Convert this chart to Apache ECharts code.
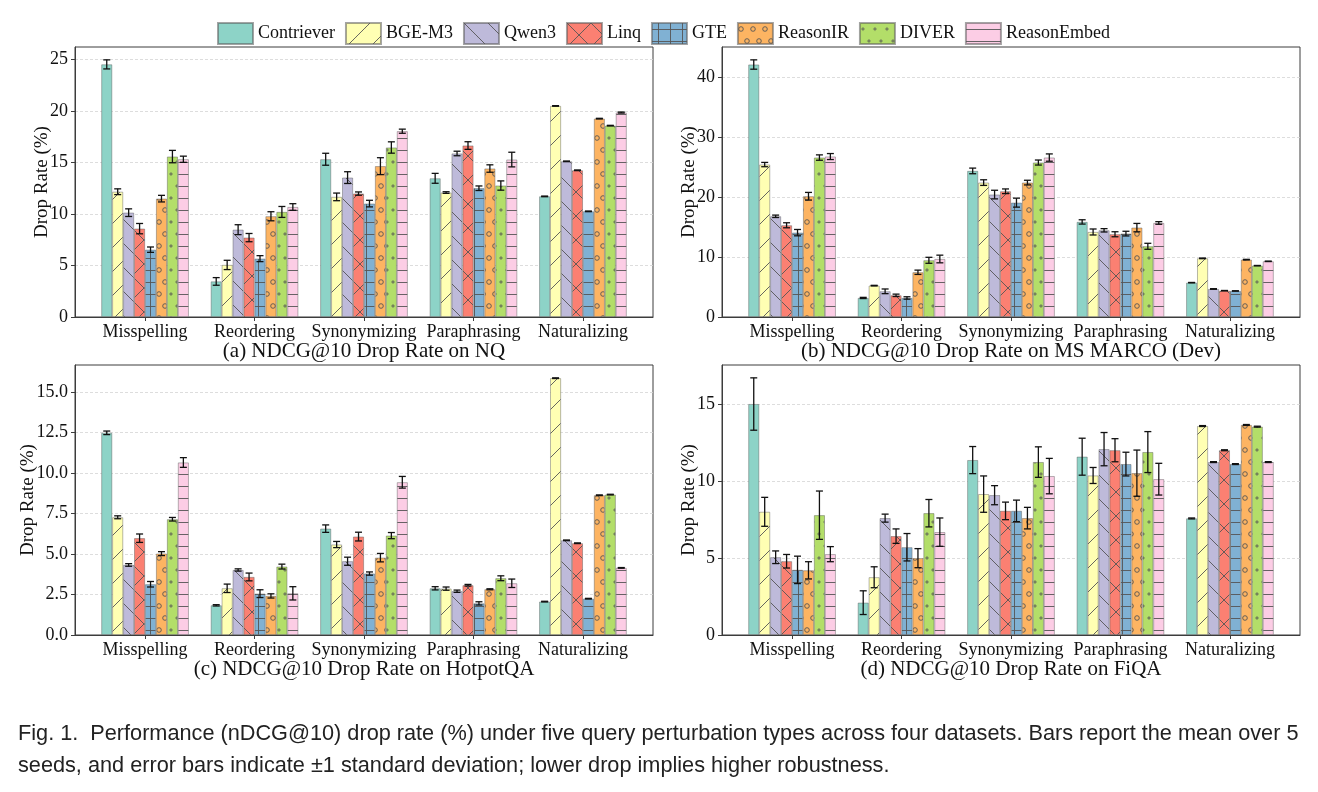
<!DOCTYPE html>
<html>
<head>
<meta charset="utf-8">
<script src="https://cdn.jsdelivr.net/npm/echarts@6.0.0/dist/echarts.min.js"></script>
<style>
  html, body { margin: 0; padding: 0; background: #fff; }
  #chart { width: 1318px; height: 792px; }
</style>
</head>
<body>
<div id="chart"></div>
<script>
const models = ["Contriever", "BGE-M3", "Qwen3", "Linq", "GTE", "ReasonIR", "DIVER", "ReasonEmbed"];
const perturbations = ["Misspelling", "Reordering", "Synonymizing", "Paraphrasing", "Naturalizing"];

// rows = models, columns = perturbations
const nqMean = [
  [24.5, 3.45, 15.3, 13.45, 11.7],
  [12.15, 5.05, 11.65, 12.07, 20.47],
  [10.12, 8.47, 13.52, 15.86, 15.1],
  [8.57, 7.7, 11.97, 16.63, 14.23],
  [6.53, 5.66, 11.0, 12.49, 10.25],
  [11.48, 9.77, 14.63, 14.4, 19.24],
  [15.56, 10.19, 16.44, 12.75, 18.56],
  [15.3, 10.67, 18.02, 15.27, 19.83],
];
const nqStd = [
  [0.44, 0.37, 0.58, 0.48, 0.03],
  [0.28, 0.45, 0.37, 0.08, 0.03],
  [0.37, 0.48, 0.57, 0.22, 0.03],
  [0.5, 0.4, 0.16, 0.37, 0.03],
  [0.26, 0.29, 0.32, 0.22, 0.03],
  [0.32, 0.44, 0.82, 0.36, 0.03],
  [0.6, 0.53, 0.55, 0.45, 0.03],
  [0.3, 0.32, 0.2, 0.71, 0.05],
];
const marcoMean = [
  [42.17, 3.18, 24.4, 15.88, 5.74],
  [25.46, 5.24, 22.45, 14.2, 9.8],
  [16.82, 4.29, 20.45, 14.48, 4.68],
  [15.32, 3.62, 21.0, 13.82, 4.4],
  [14.09, 3.18, 19.1, 13.93, 4.35],
  [20.17, 7.47, 22.45, 14.93, 9.58],
  [26.63, 9.47, 25.8, 11.81, 8.58],
  [26.8, 9.69, 26.63, 15.71, 9.3],
];
const marcoStd = [
  [0.78, 0.1, 0.47, 0.36, 0.03],
  [0.36, 0.05, 0.47, 0.5, 0.05],
  [0.2, 0.39, 0.72, 0.28, 0.05],
  [0.42, 0.2, 0.39, 0.42, 0.03],
  [0.53, 0.2, 0.75, 0.39, 0.03],
  [0.64, 0.36, 0.39, 0.7, 0.05],
  [0.45, 0.5, 0.42, 0.5, 0.03],
  [0.5, 0.64, 0.61, 0.22, 0.03],
];
const hotpotMean = [
  [12.47, 1.83, 6.56, 2.88, 2.06],
  [7.26, 2.88, 5.58, 2.86, 15.84],
  [4.32, 4.01, 4.55, 2.7, 5.84],
  [5.97, 3.58, 6.07, 3.07, 5.66],
  [3.13, 2.55, 3.79, 1.95, 2.24],
  [5.02, 2.41, 4.77, 2.82, 8.62],
  [7.14, 4.22, 6.13, 3.5, 8.66],
  [10.64, 2.57, 9.42, 3.19, 4.14],
];
const hotpotStd = [
  [0.11, 0.04, 0.23, 0.1, 0.02],
  [0.09, 0.26, 0.19, 0.1, 0.02],
  [0.08, 0.07, 0.25, 0.07, 0.02],
  [0.26, 0.24, 0.27, 0.05, 0.02],
  [0.17, 0.24, 0.1, 0.1, 0.02],
  [0.12, 0.13, 0.26, 0.03, 0.02],
  [0.11, 0.15, 0.19, 0.15, 0.02],
  [0.3, 0.41, 0.36, 0.26, 0.02],
];
const fiqaMean = [
  [15.0, 2.1, 11.36, 11.58, 7.57],
  [8.0, 3.75, 9.15, 10.36, 13.57],
  [5.05, 7.59, 9.08, 12.07, 11.23],
  [4.79, 6.42, 8.06, 12.0, 12.0],
  [4.23, 5.7, 8.06, 11.1, 11.1],
  [4.2, 4.99, 7.59, 10.51, 13.64],
  [7.78, 7.91, 11.23, 11.88, 13.53],
  [5.25, 6.68, 10.32, 10.12, 11.23],
];
const fiqaStd = [
  [1.7, 0.77, 0.88, 1.2, 0.03],
  [0.94, 0.68, 1.18, 0.52, 0.03],
  [0.41, 0.26, 0.62, 1.08, 0.03],
  [0.44, 0.47, 0.57, 0.75, 0.03],
  [0.89, 0.89, 0.7, 0.77, 0.03],
  [0.56, 0.62, 0.7, 1.5, 0.03],
  [1.57, 0.89, 0.99, 1.33, 0.03],
  [0.49, 0.92, 1.15, 1.03, 0.03],
];
const panelTitles = [
  "(a) NDCG@10 Drop Rate on NQ",
  "(b) NDCG@10 Drop Rate on MS MARCO (Dev)",
  "(c) NDCG@10 Drop Rate on HotpotQA",
  "(d) NDCG@10 Drop Rate on FiQA",
];
const yTickSteps = [5, 10, 2.5, 5];
const yTickMax = [25, 40, 15, 15];
const captionLines = [
  "Fig. 1.  Performance (nDCG@10) drop rate (%) under five query perturbation types across four datasets. Bars report the mean over 5",
  "seeds, and error bars indicate \u00b11 standard deviation; lower drop implies higher robustness.",
];

const colors = ["#8dd3c7", "#ffffb3", "#bebada", "#fb8072", "#80b1d3", "#fdb462", "#b3de69", "#fccde5"];
const hatches = ["", "/", "\\", "x", "+", "o", ".", "-"];
const serif = "Liberation Serif";

function makePattern(fill, hatch) {
  if (!hatch) return fill;
  const diag = hatch === "/" || hatch === "\\" || hatch === "x";
  const w = diag ? 24 : 12;
  const h = diag || hatch === "o" || hatch === "." ? 24 : 12;
  const canvas = document.createElement("canvas");
  canvas.width = w;
  canvas.height = h;
  const ctx = canvas.getContext("2d");
  ctx.fillStyle = fill;
  ctx.fillRect(0, 0, w, h);
  ctx.strokeStyle = "rgba(85,85,85,0.9)";
  ctx.lineWidth = 1;
  ctx.beginPath();
  if (hatch === "/" || hatch === "x") {
    for (const k of [-w, 0, w]) { ctx.moveTo(k, h); ctx.lineTo(k + w, 0); }
  }
  if (hatch === "\\" || hatch === "x") {
    for (const k of [-w, 0, w]) { ctx.moveTo(k, 0); ctx.lineTo(k + w, h); }
  }
  if (hatch === "+") {
    ctx.moveTo(0, 6.5); ctx.lineTo(w, 6.5);
    ctx.moveTo(6.5, 0); ctx.lineTo(6.5, h);
  }
  if (hatch === "-") {
    ctx.moveTo(0, 6.5); ctx.lineTo(w, 6.5);
  }
  ctx.stroke();
  if (hatch === "o" || hatch === ".") {
    const r = hatch === "o" ? 2.3 : 1.1;
    for (const [cx, cy] of [[3, 6], [9, 18]]) {
      ctx.beginPath();
      ctx.arc(cx, cy, r, 0, Math.PI * 2);
      ctx.stroke();
    }
  }
  return { image: canvas, repeat: "repeat" };
}

const barColors = colors.map((c, k) => makePattern(c, hatches[k]));

const panels = [
  { mean: nqMean, std: nqStd, yNameGap: 23, grid: { left: 75, top: 47, width: 578, height: 270 } },
  { mean: marcoMean, std: marcoStd, yNameGap: 23, grid: { left: 722, top: 47, width: 578, height: 270 } },
  { mean: hotpotMean, std: hotpotStd, yNameGap: 37, grid: { left: 75, top: 365, width: 578, height: 270 } },
  { mean: fiqaMean, std: fiqaStd, yNameGap: 23, grid: { left: 722, top: 365, width: 578, height: 270 } },
];

const catIndex = perturbations.map((_, i) => i);
const grids = [], xAxes = [], yAxes = [], series = [];

panels.forEach((panel, p) => {
  let top = 0;
  panel.mean.forEach((row, k) => row.forEach((v, i) => { top = Math.max(top, v + panel.std[k][i]); }));
  const step = yTickSteps[p];
  const ticks = [];
  for (let t = 0; t <= yTickMax[p] + 1e-9; t += step) ticks.push(t);

  grids.push({ ...panel.grid, show: true, borderColor: "#3c3c3c", borderWidth: 1, containLabel: false });
  xAxes.push({
    type: "value", gridIndex: p, min: -0.64, max: 4.64,
    name: panelTitles[p], nameLocation: "middle", nameGap: 24, nameMoveOverlap: false,
    nameTextStyle: { fontFamily: serif, fontSize: 21, color: "#111", verticalAlign: "top" },
    axisLine: { onZero: false, lineStyle: { color: "#3c3c3c", width: 1 } },
    axisTick: { customValues: catIndex, length: 4, lineStyle: { color: "#3c3c3c" } },
    axisLabel: {
      customValues: catIndex, margin: 6,
      fontFamily: serif, fontSize: 18, color: "#111",
      formatter: (v) => perturbations[Math.round(v)],
    },
    splitLine: { show: false },
  });
  yAxes.push({
    type: "value", gridIndex: p, min: 0, max: top * 1.05, interval: step,
    name: "Drop Rate (%)", nameLocation: "middle", nameGap: panel.yNameGap, nameMoveOverlap: false,
    nameTextStyle: { fontFamily: serif, fontSize: 19, color: "#111" },
    axisLine: { show: true, onZero: false, lineStyle: { color: "#3c3c3c", width: 1 } },
    axisTick: { show: true, customValues: ticks, length: 4, lineStyle: { color: "#3c3c3c" } },
    axisLabel: {
      customValues: ticks, margin: 7,
      fontFamily: serif, fontSize: 18, color: "#111",
      formatter: (v) => (step % 1 ? v.toFixed(1) : String(v)),
    },
    splitLine: { show: true, lineStyle: { color: "#d4d4d4", type: [3, 2], width: 0.8 } },
  });

  models.forEach((name, k) => {
    series.push({
      type: "bar", name, xAxisIndex: p, yAxisIndex: p,
      barGap: "0%", barCategoryGap: "20%",
      data: catIndex.map((i) => [i, panel.mean[k][i]]),
      itemStyle: { color: barColors[k], borderColor: "rgba(90,90,90,0.55)", borderWidth: 0.8 },
      emphasis: { disabled: true }, silent: true, animation: false,
    });
  });

  const errRows = [];
  models.forEach((_, k) => catIndex.forEach((i) => {
    errRows.push([i, k, panel.mean[k][i] - panel.std[k][i], panel.mean[k][i] + panel.std[k][i]]);
  }));
  series.push({
    type: "custom", xAxisIndex: p, yAxisIndex: p, z: 10, silent: true, animation: false,
    data: errRows, encode: { x: 0, y: [2, 3] },
    renderItem: (params, api) => {
      const band = api.size([1, 0])[0];
      const x = api.coord([api.value(0), 0])[0] + (api.value(1) - 3.5) * band * 0.1;
      const lo = api.coord([api.value(0), api.value(2)])[1];
      const hi = api.coord([api.value(0), api.value(3)])[1];
      const cap = 3.5;
      const style = { stroke: "#111", lineWidth: 1.3 };
      return {
        type: "group",
        children: [
          { type: "line", shape: { x1: x, y1: lo, x2: x, y2: hi }, style },
          { type: "line", shape: { x1: x - cap, y1: hi, x2: x + cap, y2: hi }, style },
          { type: "line", shape: { x1: x - cap, y1: lo, x2: x + cap, y2: lo }, style },
        ],
      };
    },
  });
});

const chart = echarts.init(document.getElementById("chart"), null, { renderer: "canvas" });
chart.setOption({
  animation: false,
  backgroundColor: "#fff",
  legend: {
    data: models, left: 217, top: 22, padding: 0,
    itemWidth: 35, itemHeight: 21, itemGap: 10,
    icon: "rect",
    textStyle: { fontFamily: serif, fontSize: 18, color: "#111" },
    selectedMode: false,
  },
  grid: grids,
  xAxis: xAxes,
  yAxis: yAxes,
  series,
  graphic: captionLines.map((text, j) => ({
    type: "text", left: 18, top: 723 + j * 32, silent: true,
    style: { text, font: '21.7px "Liberation Sans"', fill: "#222" },
  })),
});
</script>
</body>
</html>
